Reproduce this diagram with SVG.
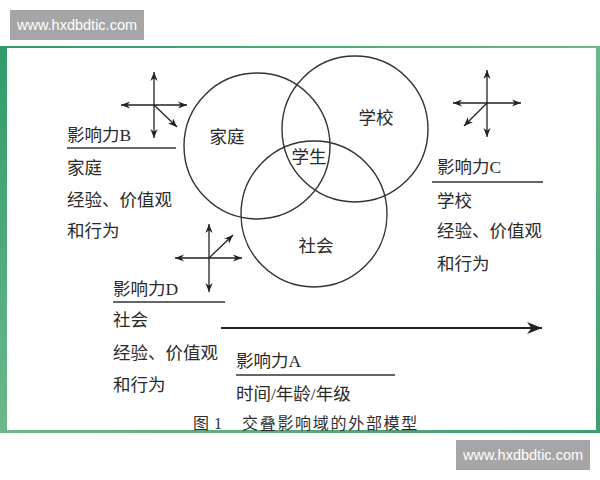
<svg xmlns="http://www.w3.org/2000/svg" width="600" height="480" viewBox="0 0 600 480">
  <defs>
    <linearGradient id="green" x1="0" y1="0" x2="1" y2="1">
      <stop offset="0" stop-color="#2f9a6a"/>
      <stop offset="0.5" stop-color="#6cb88a"/>
      <stop offset="1" stop-color="#3f9c70"/>
    </linearGradient>
    <marker id="ah" viewBox="0 0 10 8" refX="10" refY="4" markerWidth="9" markerHeight="7.5" markerUnits="userSpaceOnUse" orient="auto-start-reverse">
      <path d="M0,0 L10,4 L0,8 L3,4 z" fill="#222"/>
    </marker>
    <marker id="ahBig" viewBox="0 0 10 8" refX="10" refY="4" markerWidth="15" markerHeight="12" markerUnits="userSpaceOnUse" orient="auto">
      <path d="M0,0 L10,4 L0,8 L3,4 z" fill="#222"/>
    </marker>
  </defs>
  <style>
    .t { font-family: "Liberation Serif", "Noto Sans CJK SC", serif; font-size: 17.5px; fill: #2a2a2a; }
    .cap { font-family: "Liberation Serif", "Noto Sans CJK SC", serif; font-size: 16px; fill: #2e2e2e; }
    .c { fill: none; stroke: #333; stroke-width: 1.4; }
    .ul { stroke: #333; stroke-width: 1.5; }
    .ax { stroke: #222; stroke-width: 1.3; fill: none; marker-start: url(#ah); marker-end: url(#ah); }
    .dg { stroke: #222; stroke-width: 1.3; fill: none; marker-end: url(#ah); }
    .wm { font-family: "Liberation Sans", "DejaVu Sans", sans-serif; font-size: 14.5px; fill: #ffffff; }
  </style>

  <rect width="600" height="480" fill="#ffffff"/>
  <!-- frame -->
  <rect x="0" y="46" width="600" height="387" fill="url(#green)"/>
  <rect x="7" y="48" width="589" height="382" fill="#ffffff"/>

  <!-- watermarks -->
  <g id="wm-top">
    <rect x="10" y="10" width="134" height="30" fill="#a6a6a6"/>
    <text class="wm" x="77" y="30" text-anchor="middle">www.hxdbdtic.com</text>
  </g>
  <g id="wm-bottom">
    <rect x="456" y="440" width="134" height="30" fill="#a6a6a6"/>
    <text class="wm" x="523" y="460" text-anchor="middle">www.hxdbdtic.com</text>
  </g>

  <!-- circles -->
  <g id="family">
    <circle class="c" cx="257" cy="146" r="73"/>
    <text class="t" x="227" y="142.5" text-anchor="middle">家庭</text>
  </g>
  <g id="school">
    <circle class="c" cx="355" cy="129" r="73"/>
    <text class="t" x="376" y="123.5" text-anchor="middle">学校</text>
  </g>
  <g id="society">
    <circle class="c" cx="314" cy="214" r="73"/>
    <text class="t" x="316" y="251.5" text-anchor="middle">社会</text>
  </g>
  <g id="student">
    <text class="t" x="309" y="162.5" text-anchor="middle">学生</text>
  </g>

  <!-- text blocks -->
  <g id="influence-b">
    <text class="t" x="67" y="141">影响力B</text>
    <line class="ul" x1="67" y1="148" x2="176" y2="148"/>
    <text class="t" x="67" y="173.5">家庭</text>
    <text class="t" x="67" y="205.5">经验、价值观</text>
    <text class="t" x="67" y="236.5">和行为</text>
  </g>
  <g id="influence-c">
    <text class="t" x="437" y="172.5">影响力C</text>
    <line class="ul" x1="432" y1="182" x2="543" y2="182"/>
    <text class="t" x="437" y="206.5">学校</text>
    <text class="t" x="437" y="236.5">经验、价值观</text>
    <text class="t" x="437" y="269.5">和行为</text>
  </g>
  <g id="influence-d">
    <text class="t" x="113" y="294.5">影响力D</text>
    <line class="ul" x1="113" y1="302" x2="225" y2="302"/>
    <text class="t" x="113" y="325.5">社会</text>
    <text class="t" x="113" y="358.5">经验、价值观</text>
    <text class="t" x="113" y="390.5">和行为</text>
  </g>
  <g id="influence-a">
    <text class="t" x="236" y="366.5">影响力A</text>
    <line class="ul" x1="236" y1="375" x2="395" y2="375"/>
    <text class="t" x="236" y="399.5">时间/年龄/年级</text>
  </g>

  <g id="caption">
    <text class="cap" x="193" y="429">图</text>
    <text class="cap" x="214" y="429">1</text>
    <text class="cap" x="242" y="429" style="letter-spacing: 1.7px;">交叠影响域的外部模型</text>
  </g>

  <!-- connectors -->
  <g id="connectors">
    <!-- cross B -->
    <line class="ax" x1="154" y1="72" x2="154" y2="138"/>
    <line class="ax" x1="121" y1="105" x2="187" y2="105"/>
    <line class="dg" x1="154" y1="105" x2="177" y2="127"/>
    <!-- cross C -->
    <line class="ax" x1="487" y1="70" x2="487" y2="137"/>
    <line class="ax" x1="453" y1="103" x2="521" y2="103"/>
    <line class="dg" x1="487" y1="103" x2="464" y2="126"/>
    <!-- cross D -->
    <line class="ax" x1="209" y1="224" x2="209" y2="292"/>
    <line class="ax" x1="175" y1="258" x2="242" y2="258"/>
    <line class="dg" x1="209" y1="258" x2="233" y2="235"/>
    <!-- time arrow -->
    <line x1="221" y1="328" x2="542" y2="328" stroke="#222" stroke-width="2" marker-end="url(#ahBig)"/>
  </g>
</svg>
